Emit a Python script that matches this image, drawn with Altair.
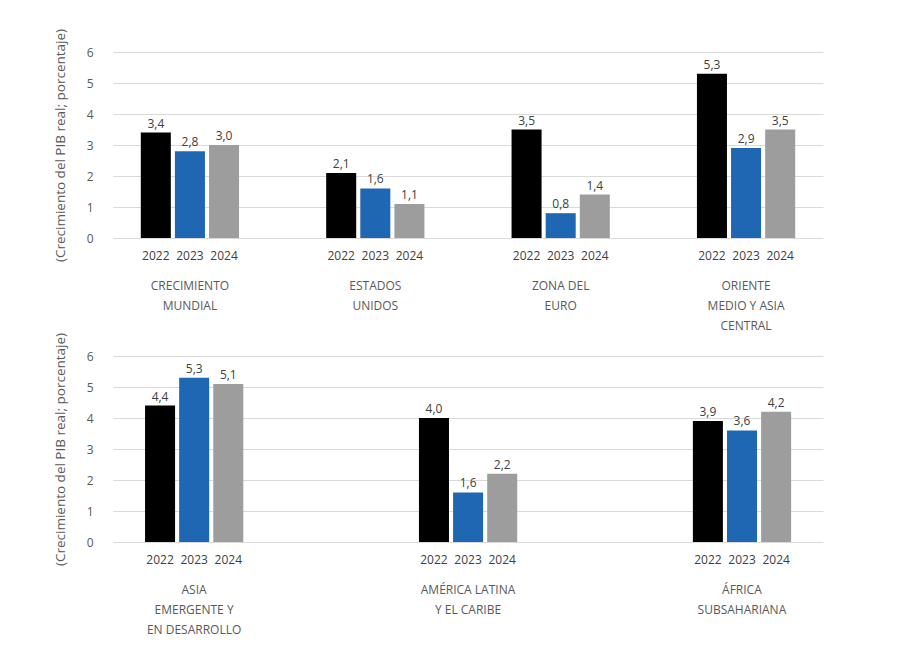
import altair as alt
import pandas as pd

years = ["2022", "2023", "2024"]
colors = ["#000000", "#1f66b3", "#9d9d9d"]

top_groups = ["CRECIMIENTO|MUNDIAL", "ESTADOS|UNIDOS", "ZONA DEL|EURO", "ORIENTE|MEDIO Y ASIA|CENTRAL"]
top_2022 = [3.4, 2.1, 3.5, 5.3]
top_2023 = [2.8, 1.6, 0.8, 2.9]
top_2024 = [3.0, 1.1, 1.4, 3.5]

bot_groups = ["ASIA|EMERGENTE Y|EN DESARROLLO", "AMÉRICA LATINA|Y EL CARIBE", "ÁFRICA|SUBSAHARIANA"]
bot_2022 = [4.4, 4.0, 3.9]
bot_2023 = [5.3, 1.6, 3.6]
bot_2024 = [5.1, 2.2, 4.2]

y_ticks = [0, 1, 2, 3, 4, 5, 6]
y_title = "(Crecimiento del PIB real; porcentaje)"
FONT = "Open Sans"
TXT = "#595959"


def make_df(groups, s22, s23, s24):
    rows = []
    for i, g in enumerate(groups):
        for y, s in zip(years, (s22, s23, s24)):
            rows.append({"group": g, "year": y, "value": s[i]})
    return pd.DataFrame(rows)


y_axis = alt.Axis(
    title=y_title,
    values=y_ticks,
    domain=False,
    ticks=False,
    grid=True,
    gridColor="#d9d9d9",
    gridWidth=1,
    labelOverlap=False,
    labelPadding=20,
    labelFont=FONT,
    labelFontSize=12,
    labelColor=TXT,
    titleFont=FONT,
    titleFontSize=13.5,
    titleFontWeight="normal",
    titleColor=TXT,
    titlePadding=19,
)
y_scale = alt.Scale(domain=[0, 6])


def panel(groups, s22, s23, s24, pad_inner, pad_outer):
    df = make_df(groups, s22, s23, s24)
    base = alt.Chart(df).encode(
        x=alt.X(
            "group:N",
            sort=groups,
            scale=alt.Scale(paddingInner=pad_inner, paddingOuter=pad_outer),
            axis=alt.Axis(
                title=None,
                domain=False,
                ticks=False,
                labelExpr="split(datum.value, '|')",
                labelPadding=42,
                labelAngle=0,
                labelFont=FONT,
                labelFontSize=12,
                labelColor=TXT,
                labelLineHeight=20,
                labelBaseline="top",
                labelOverlap=False,
            ),
        ),
        xOffset=alt.XOffset(
            "year:N", sort=years, scale=alt.Scale(paddingInner=0.12, paddingOuter=0)
        ),
    )
    bars = base.mark_bar().encode(
        y=alt.Y("value:Q", scale=y_scale, axis=y_axis),
        color=alt.Color("year:N", sort=years, scale=alt.Scale(domain=years, range=colors), legend=None),
    )
    values = base.mark_text(
        baseline="bottom", dy=-2, font=FONT, fontSize=12, color="#404040"
    ).transform_calculate(
        lbl="replace(format(datum.value, '.1f'), '.', ',')"
    ).encode(y=alt.Y("value:Q", scale=y_scale, axis=y_axis), text="lbl:N")
    yrs = base.mark_text(
        baseline="middle", dy=18, font=FONT, fontSize=12, color="#404040"
    ).encode(y=alt.Y(datum=0, scale=y_scale, axis=y_axis), text="year:N")
    return alt.layer(bars, values, yrs).properties(width=710, height=186)


top = panel(top_groups, top_2022, top_2023, top_2024, 0.47, 0.15)
bot = panel(bot_groups, bot_2022, bot_2023, bot_2024, 0.642, 0.117)

chart = alt.vconcat(top, bot, spacing=118, bounds="flush", background="white").properties(
    padding={"left": 45, "top": 20, "right": 5, "bottom": 5}
).configure_view(stroke=None)

chart.save("out.html", embed_options={"renderer": "svg", "actions": False})
